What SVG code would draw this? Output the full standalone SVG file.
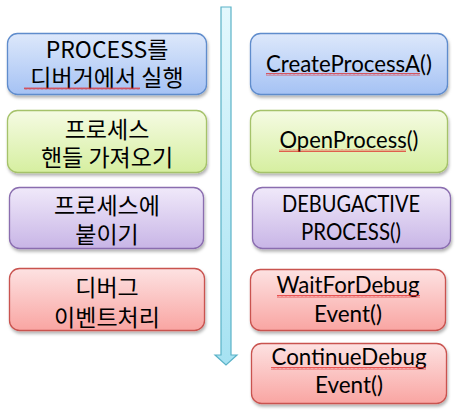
<svg xmlns="http://www.w3.org/2000/svg" width="461" height="420" viewBox="0 0 461 420">
<style>
.box{stroke-width:1.3}
.ko{font-family:"Noto Sans CJK KR","Noto Sans",sans-serif;font-size:23px;fill:#000;text-anchor:middle}
.en{font-family:Lato,"Liberation Sans",sans-serif;font-size:23px;fill:#000;text-anchor:middle}
.sq{fill:url(#squig)}
</style>
<defs>
<filter id="sh" x="-10%" y="-10%" width="120%" height="130%">
<feDropShadow dx="1" dy="2.5" stdDeviation="1.5" flood-color="#000" flood-opacity="0.3"/>
</filter>
<linearGradient id="gBlue" x1="0" y1="0" x2="0" y2="1"><stop offset="0" stop-color="#dde8fb"/><stop offset="1" stop-color="#a5c2f4"/></linearGradient>
<linearGradient id="gGreen" x1="0" y1="0" x2="0" y2="1"><stop offset="0" stop-color="#f5fbe3"/><stop offset="1" stop-color="#d6efa0"/></linearGradient>
<linearGradient id="gPurple" x1="0" y1="0" x2="0" y2="1"><stop offset="0" stop-color="#f0e9fa"/><stop offset="1" stop-color="#c8b5e6"/></linearGradient>
<linearGradient id="gRed" x1="0" y1="0" x2="0" y2="1"><stop offset="0" stop-color="#fde2e2"/><stop offset="1" stop-color="#f9a5a2"/></linearGradient>
<linearGradient id="gArrow" x1="0" y1="0" x2="0" y2="1"><stop offset="0" stop-color="#e3f8fd"/><stop offset="1" stop-color="#a6e2f2"/></linearGradient>
<pattern id="squig" width="4" height="3" patternUnits="userSpaceOnUse">
<path d="M0,2.5 L1,0.5 L2,2.5 L3,0.5 L4,2.5" fill="none" stroke="#e02020" stroke-width="0.7"/>
</pattern>
</defs>

<g id="connectors">
<path d="M221,7 H231 V355 H237 L226,365 L215,355 H221 Z" fill="url(#gArrow)" stroke="#5ab2c7" stroke-width="1.2"/>
</g>

<g id="left1">
<rect class="box" x="7.5" y="33.5" width="199" height="61" rx="10" fill="url(#gBlue)" stroke="#5f8ccc" filter="url(#sh)"/>
<text class="ko" x="107" y="58">PROCESS를<tspan x="107" dy="28">디버거에서 실행</tspan></text>
<rect class="sq" x="24" y="87" width="116" height="3"/>
</g>
<g id="left2">
<rect class="box" x="7.5" y="110.5" width="199" height="62" rx="10" fill="url(#gGreen)" stroke="#a5c26a" filter="url(#sh)"/>
<text class="ko" x="107" y="138">프로세스<tspan x="107" dy="28">핸들 가져오기</tspan></text>
</g>
<g id="left3">
<rect class="box" x="9.5" y="187.5" width="194" height="61" rx="10" fill="url(#gPurple)" stroke="#8a6daf" filter="url(#sh)"/>
<text class="ko" x="107" y="214">프로세스에<tspan x="107" dy="29">붙이기</tspan></text>
</g>
<g id="left4">
<rect class="box" x="9.5" y="268.5" width="195" height="62" rx="10" fill="url(#gRed)" stroke="#c9534f" filter="url(#sh)"/>
<text class="ko" x="107" y="296">디버그<tspan x="107" dy="30">이벤트처리</tspan></text>
</g>

<g id="right1">
<rect class="box" x="250.5" y="33.5" width="197" height="61" rx="10" fill="url(#gBlue)" stroke="#5f8ccc" filter="url(#sh)"/>
<text class="en" x="349" y="72" textLength="166" lengthAdjust="spacingAndGlyphs">CreateProcessA()</text>
<rect class="sq" x="266" y="73" width="154" height="3"/>
</g>
<g id="right2">
<rect class="box" x="250.5" y="110.5" width="197" height="62" rx="10" fill="url(#gGreen)" stroke="#a5c26a" filter="url(#sh)"/>
<text class="en" x="349" y="148" textLength="139" lengthAdjust="spacingAndGlyphs">OpenProcess()</text>
<rect class="sq" x="279" y="149" width="127" height="3"/>
</g>
<g id="right3">
<rect class="box" x="252.5" y="187.5" width="198" height="61" rx="10" fill="url(#gPurple)" stroke="#8a6daf" filter="url(#sh)"/>
<text class="en" x="351" y="212"><tspan textLength="138" lengthAdjust="spacingAndGlyphs">DEBUGACTIVE</tspan><tspan x="351" dy="28" textLength="100" lengthAdjust="spacingAndGlyphs">PROCESS()</tspan></text>
</g>
<g id="right4">
<rect class="box" x="250.5" y="269.5" width="195" height="61" rx="10" fill="url(#gRed)" stroke="#c9534f" filter="url(#sh)"/>
<text class="en" x="348" y="293"><tspan textLength="143" lengthAdjust="spacingAndGlyphs">WaitForDebug</tspan><tspan x="348" dy="29" textLength="68" lengthAdjust="spacingAndGlyphs">Event()</tspan></text>
<rect class="sq" x="277" y="295" width="143" height="3"/>
</g>
<g id="right5">
<rect class="box" x="251.5" y="343.5" width="195" height="60" rx="10" fill="url(#gRed)" stroke="#c9534f" filter="url(#sh)"/>
<text class="en" x="349" y="365"><tspan textLength="155" lengthAdjust="spacingAndGlyphs">ContinueDebug</tspan><tspan x="349" dy="28" textLength="68" lengthAdjust="spacingAndGlyphs">Event()</tspan></text>
<rect class="sq" x="271" y="367" width="155" height="3"/>
</g>
</svg>
